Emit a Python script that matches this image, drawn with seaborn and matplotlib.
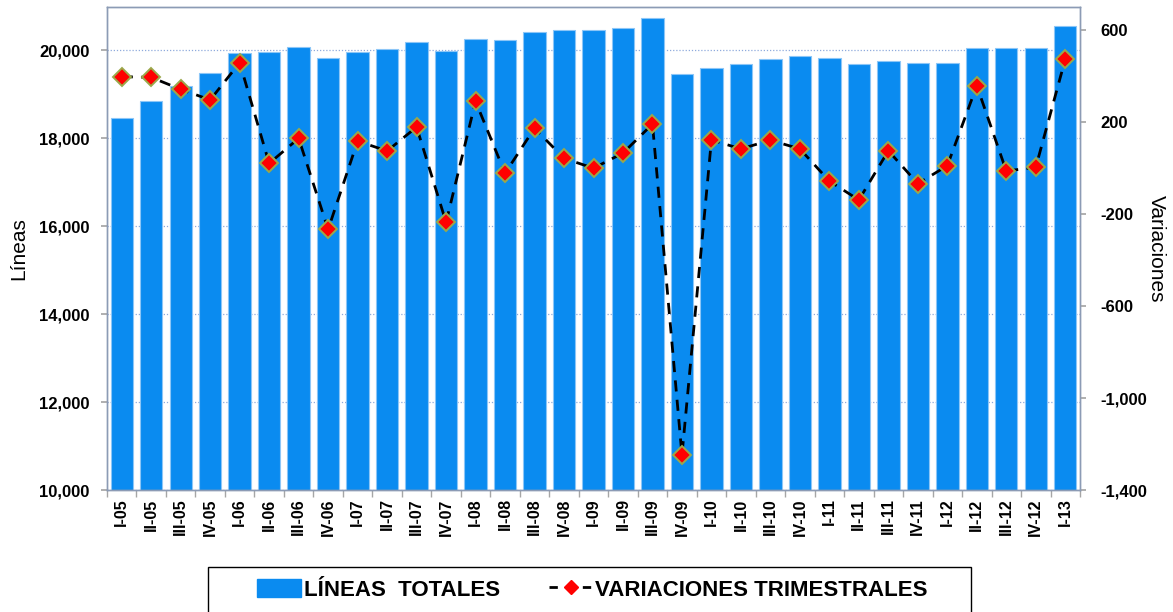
import numpy as np
import pandas as pd
import matplotlib
matplotlib.use("Agg")
import matplotlib.pyplot as plt
import seaborn as sns
from matplotlib.lines import Line2D
from matplotlib.patches import Patch, Rectangle
from matplotlib.ticker import FuncFormatter

quarters = ["I-05", "II-05", "III-05", "IV-05", "I-06", "II-06", "III-06", "IV-06",
            "I-07", "II-07", "III-07", "IV-07", "I-08", "II-08", "III-08", "IV-08",
            "I-09", "II-09", "III-09", "IV-09", "I-10", "II-10", "III-10", "IV-10",
            "I-11", "II-11", "III-11", "IV-11", "I-12", "II-12", "III-12", "IV-12", "I-13"]

lineas_totales = [18455, 18840, 19180, 19490, 19930, 19950, 20080, 19820,
                  19950, 20020, 20190, 19970, 20250, 20230, 20420, 20460,
                  20460, 20510, 20720, 19460, 19590, 19690, 19800, 19870,
                  19820, 19690, 19760, 19710, 19710, 20050, 20050, 20050, 20540]

variaciones = [397, 394, 342, 296, 458, 20, 129, -267,
               117, 74, 178, -236, 290, -23, 173, 42,
               -1, 65, 191, -1248, 122, 83, 121, 83,
               -57, -139, 75, -68, 10, 358, -13, 3, 473]

left_ticks = [10000, 12000, 14000, 16000, 18000, 20000]
right_ticks = [-1400, -1000, -600, -200, 200, 600]

bar_color = "#0A8BF0"
fam = ["Liberation Sans", "DejaVu Sans"]

sns.set_theme(style="white")
plt.rcParams['font.family'] = fam
plt.rcParams['text.color'] = "black"
plt.rcParams['axes.labelcolor'] = "black"

fig = plt.figure(figsize=(11.73, 6.12), dpi=100)
ax = fig.add_axes([107 / 1173, 0.1993, 973 / 1173, 0.7893])

df = pd.DataFrame({"q": quarters, "v": lineas_totales})
sns.barplot(data=df, x="q", y="v", order=quarters, color=bar_color, saturation=1,
            width=0.76, edgecolor="#8CC6F7", linewidth=0.8, ax=ax, zorder=2)

ax.set_xlim(-0.5, len(quarters) - 0.5)
ax.set_ylim(10000, 20980)
ax.set_yticks(left_ticks)
ax.yaxis.set_major_formatter(FuncFormatter(lambda v, p: f"{int(v):,}"))
ax.grid(axis="y", color="#8FAADC", linestyle=(0, (1, 1.5)), linewidth=0.9, zorder=0)
ax.set_axisbelow(True)
ax.set_xlabel("")
ax.set_ylabel("Líneas", fontsize=15, labelpad=8)

ax.set_xticks(np.arange(len(quarters)))
ax.set_xticklabels(quarters, rotation=90, fontsize=11.5, fontweight="bold")
ax.tick_params(axis="x", length=0, pad=6, labelcolor="black")
ax.set_xticks(np.arange(-0.5, len(quarters)), minor=True)
ax.tick_params(axis="x", which="minor", length=5, color="#A6A6A6", width=1, bottom=True)
ax.tick_params(axis="y", labelsize=12, length=4, pad=8.5, color="#A6A6A6", left=True,
               labelcolor="black")
for t in ax.get_yticklabels():
    t.set_fontweight("bold")

for s in ax.spines.values():
    s.set_color("#8C9BB5")
    s.set_linewidth(1)

ax2 = ax.twinx()
sns.lineplot(x=np.arange(len(quarters)), y=variaciones, ax=ax2, color="black",
             linestyle=(0, (4, 3)), linewidth=2, marker="D", markersize=9.5,
             markerfacecolor="#FF0000", markeredgecolor="#9BA84A", markeredgewidth=1.4,
             zorder=3)
ax2.set_ylim(-1400, 700)
ax2.set_yticks(right_ticks)
ax2.yaxis.set_major_formatter(FuncFormatter(lambda v, p: f"{int(v):,}"))
ax2.tick_params(axis="y", labelsize=12, length=4, pad=11, color="#A6A6A6", right=True,
                labelcolor="black")
for t in ax2.get_yticklabels():
    t.set_fontweight("bold")
ax2.set_ylabel("Variaciones", fontsize=15, rotation=270, labelpad=13)
ax2.grid(False)
for s in ax2.spines.values():
    s.set_color("#8C9BB5")
    s.set_linewidth(1)
ax2.set_xlim(-0.5, len(quarters) - 0.5)

# legend box (frame drawn separately to match the wide padding)
fig.add_artist(Rectangle((208 / 1173, -0.05), (971 - 208) / 1173, 0.05 + (612 - 567) / 612,
                         transform=fig.transFigure, facecolor="white",
                         edgecolor="black", linewidth=1, zorder=1))

handles = [Patch(facecolor=bar_color, edgecolor=bar_color),
           Line2D([0], [0], color="black", linestyle=(0, (3, 3)), linewidth=2,
                  marker="D", markersize=7, markerfacecolor="#FF0000",
                  markeredgecolor="#FF0000")]
leg = fig.legend(handles, ["LÍNEAS  TOTALES", "VARIACIONES TRIMESTRALES"],
                 loc="center", bbox_to_anchor=(0.505, 0.036), ncol=2, frameon=False,
                 handlelength=2.0, handleheight=0.9,
                 columnspacing=2.2, handletextpad=0.1, borderpad=0.3,
                 borderaxespad=0, prop={"weight": "bold", "size": 16})
leg.set_zorder(2)
for t in leg.get_texts():
    t.set_color("black")

fig.savefig("out.png", dpi=100)
